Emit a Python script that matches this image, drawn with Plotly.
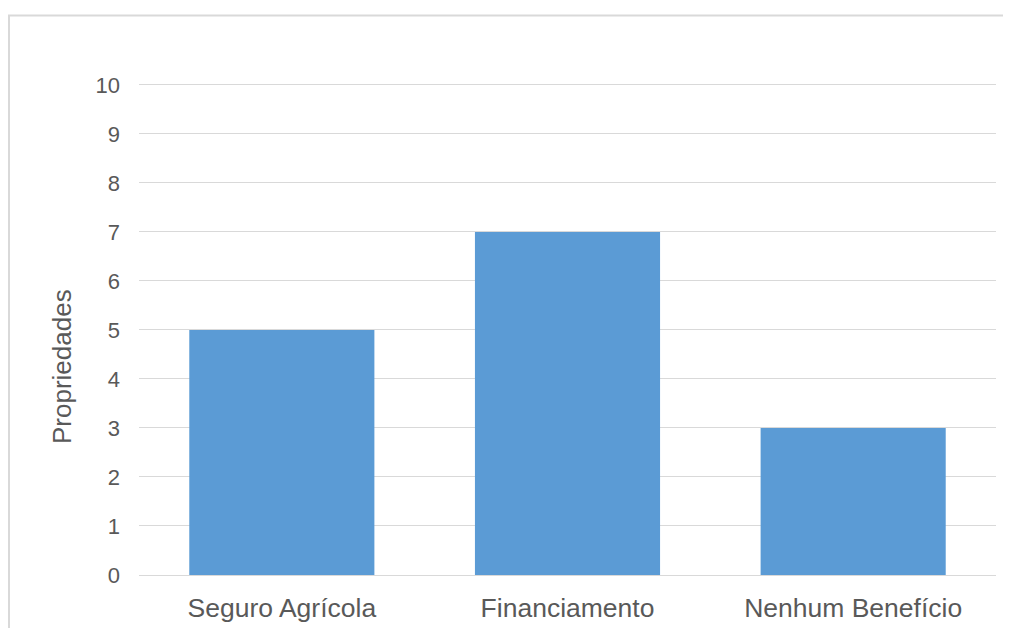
import plotly.graph_objects as go

# dados
categorias = ["Seguro Agrícola", "Financiamento", "Nenhum Benefício"]
propriedades = [5, 7, 3]
ticks_y = [0, 1, 2, 3, 4, 5, 6, 7, 8, 9, 10]

# a página tem 8px de margem no body
W, H = 1003, 620
L, R, T, B = 131, 15, 74, 53
pw, ph = W - L - R, H - T - B


def px_x(p):
    return (p - L) / pw


def px_y(p):
    return (H - B - p) / ph


fig = go.Figure(
    go.Bar(
        x=categorias,
        y=propriedades,
        marker_color="#5B9BD5",
        marker_line_width=0,
        width=0.648,
    )
)

fig.update_layout(
    width=W,
    height=H,
    margin=dict(l=L, r=R, t=T, b=B),
    plot_bgcolor="white",
    paper_bgcolor="white",
    font=dict(family="Liberation Sans, Arial", color="#595959"),
    showlegend=False,
    shapes=[
        # moldura do gráfico (topo e esquerda)
        dict(type="line", xref="paper", yref="paper",
             x0=px_x(0), x1=px_x(W), y0=px_y(7.5), y1=px_y(7.5),
             line=dict(color="#D9D9D9", width=2)),
        dict(type="line", xref="paper", yref="paper",
             x0=px_x(1), x1=px_x(1), y0=px_y(7.5), y1=px_y(H),
             line=dict(color="#D9D9D9", width=2)),
    ],
    annotations=[
        dict(text="Propriedades", textangle=-90, showarrow=False,
             xref="paper", yref="paper", x=px_x(54), y=px_y(359),
             xanchor="center", yanchor="middle",
             font=dict(size=26, color="#595959")),
    ],
)

fig.update_yaxes(
    range=[0, 10.06],
    tickvals=ticks_y,
    showgrid=True,
    gridcolor="#D9D9D9",
    gridwidth=1,
    zeroline=True,
    zerolinecolor="#D9D9D9",
    zerolinewidth=1,
    showline=False,
    automargin=False,
    tickfont=dict(size=22, color="#595959"),
    ticklabelstandoff=18,
)
fig.update_xaxes(
    showgrid=False,
    showline=False,
    automargin=False,
    tickfont=dict(size=26.5, color="#595959"),
    ticklabelstandoff=14,
)

fig.write_html("out.html")
